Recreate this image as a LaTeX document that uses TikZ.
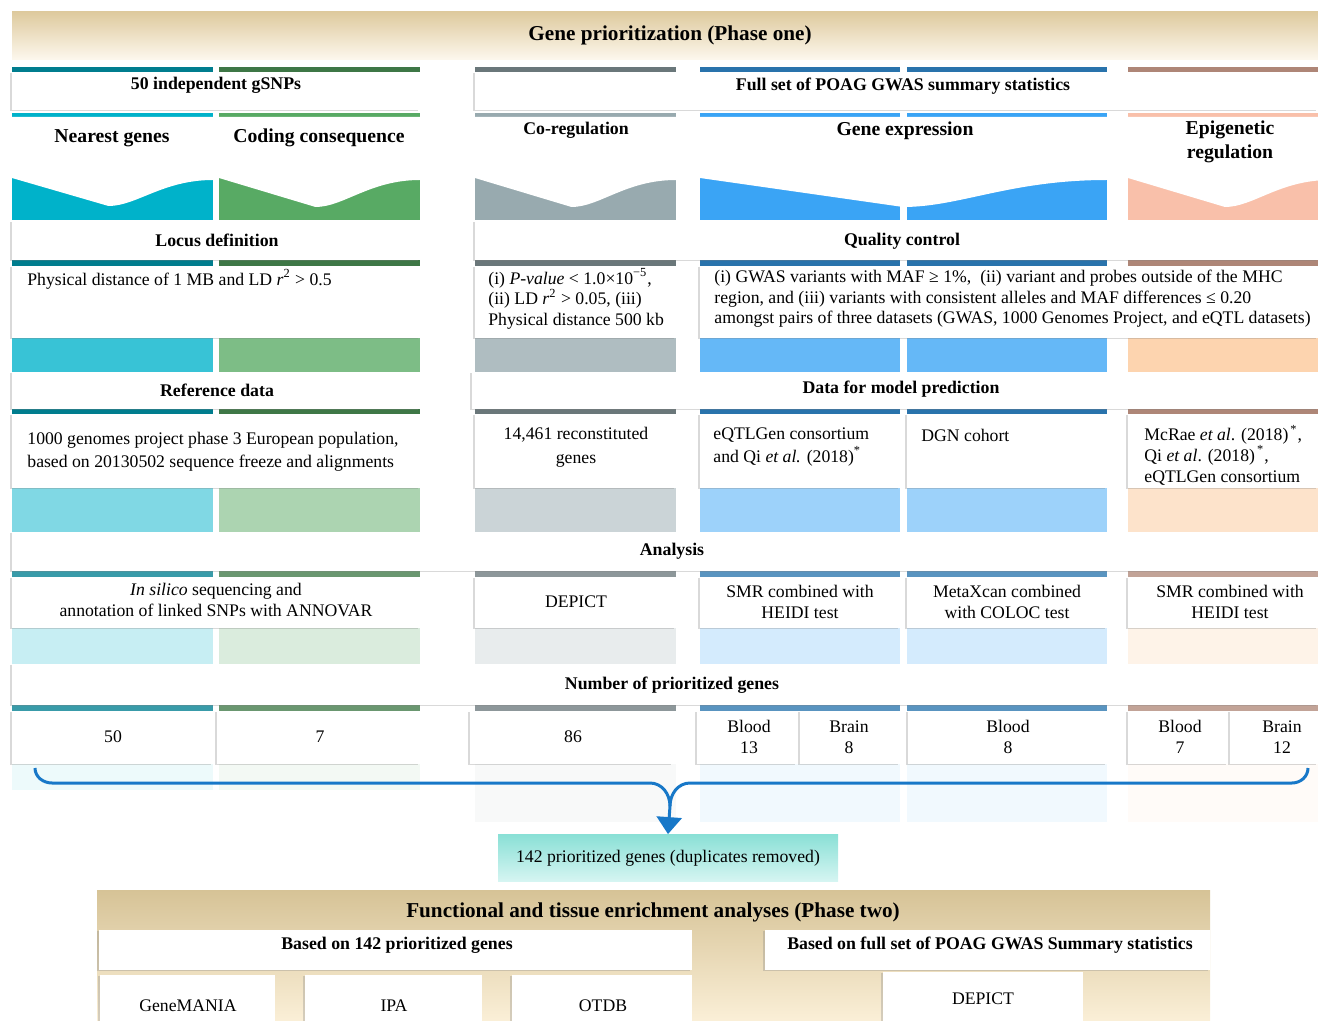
\documentclass[tikz,border=0pt]{standalone}
\usepackage{fontspec}
\setmainfont{Liberation Serif}
\usepackage{tikz}
\usetikzlibrary{arrows.meta,shadows,positioning}

\definecolor{colA}{RGB}{0,178,202}
\definecolor{colB}{RGB}{88,170,100}
\definecolor{colC}{RGB}{152,170,175}
\definecolor{colD}{RGB}{58,164,245}
\definecolor{colE}{RGB}{249,192,170}
\definecolor{colEb}{RGB}{252,200,152}
\definecolor{bracketblue}{RGB}{24,120,200}
\definecolor{tanTop}{RGB}{222,202,158}
\definecolor{tanBot}{RGB}{253,248,238}
\definecolor{tanTopB}{RGB}{214,195,150}
\definecolor{tanBotB}{RGB}{253,242,220}
\definecolor{tealTop}{RGB}{138,224,214}
\definecolor{tealBot}{RGB}{214,245,242}

\begin{document}
\begin{tikzpicture}[x=0.5pt,y=-0.5pt,
  panel/.style={fill=white,drop shadow={shadow xshift=-1.2pt,shadow yshift=-0.6pt,opacity=0.3}},
  ph/.style={font=\fontsize{10.6}{12.5}\selectfont\bfseries,inner sep=0pt},
  hdr/.style={font=\fontsize{8.9}{10.5}\selectfont\bfseries,inner sep=0pt},
  ttl/.style={font=\fontsize{9.85}{11.8}\selectfont\bfseries,align=center,inner sep=0pt},
  txt/.style={font=\fontsize{8.85}{10.3}\selectfont,align=left,inner sep=0pt},
  ctxt/.style={txt,align=center},
  bracket/.style={draw=bracketblue,line width=1.5pt}]
  \useasboundingbox (0,0) rectangle (1318,1021);
  \clip (0,0) rectangle (1318,1021);
  \shade[top color=tanTop,bottom color=tanBot] (12,12) rectangle (1318,60);
  \node[ph] (phase1) at (670,35) {Gene prioritization (Phase one)};
  % colour bands of the columns
  \foreach \xa/\xb/\c/\d/\e in {12/213/colA/colA/790,219/420/colB/colB/790,475/676/colC/colC/822,700/900/colD/colD/822,907/1107/colD/colD/822,1128/1318/colE/colEb/822}{
    \fill[\c] (\xa,113) rectangle (\xb,220);
    \fill[\d!78] (\xa,338) rectangle (\xb,372);
    \fill[\d!50] (\xa,488) rectangle (\xb,532);
    \fill[\d!22] (\xa,628) rectangle (\xb,664);
    \fill[\d!7] (\xa,764) rectangle (\xb,\e);
    \foreach \ya/\yb in {67/72,260/266,409/414} \fill[\c!70!black] (\xa,\ya) rectangle (\xb,\yb);
    \foreach \ya/\yb in {571/577,705/711} \fill[\c!55!gray] (\xa,\ya) rectangle (\xb,\yb);
  }
  % white panels
  \foreach \xa/\ya/\xb/\yb in {12/72/420/110,475/72/1318/110,12/221/420/260,475/221/1318/260,12/266/420/338,475/266/676/338,700/266/1318/338,12/372/420/409,472/372/1318/409,12/414/420/488,475/414/676/488,700/414/900/488,907/414/1107/488,1128/414/1318/488,12/532/1318/571,12/577/420/628,475/577/676/628,700/577/900/628,907/577/1107/628,1128/577/1318/628,12/664/1318/705,12/711/213/764,217/711/420/764,470/711/673/764,697/711/797/764,800/711/900/764,908/711/1107/764,1128/711/1228/764,1230/711/1318/764}
    \path[panel] (\xa,\ya) rectangle (\xb,\yb);
  \foreach \xa/\xb/\lo in {12/213/206,219/420/207,475/676/207,1128/1330/207}
    \fill[white] (\xa,117) -- (\xb,117) -- (\xb,180) .. controls ({\xb-0.25*(\xb-\xa)},180) and ({\xa+0.62*(\xb-\xa)},\lo) .. ({\xa+0.48*(\xb-\xa)},\lo) -- (\xa,178) -- cycle;
  \fill[white] (700,117) -- (1107,117) -- (1107,180) .. controls (1010,180) and (960,207) .. (903,207) -- (700,178) -- cycle;
  \node[hdr] (gsnps) at (216,85) {50 independent gSNPs};
  \node[hdr] (fullset) at (903,86) {Full set of POAG GWAS summary statistics};
  \node[ttl] (nearest) at (112,138) {Nearest genes};
  \node[ttl] (coding) at (319,138) {Coding consequence};
  \node[hdr] (coreg) at (576,130) {Co-regulation};
  \node[ttl] (geneexp) at (905,131) {Gene expression};
  \node[ttl] (epigen) at (1230,142) {Epigenetic\\regulation};
  \node[hdr] (locus) at (217,240) {Locus definition};
  \node[hdr] (qc) at (902,241) {Quality control};
  \node[txt,anchor=west] (locustxt) at (27,279) {Physical distance of 1 MB and LD \textit{r}\textsuperscript{2} > 0.5};
  \node[txt,anchor=west] (qcC) at (488,299) {(i) \textit{P-value} < 1.0×10\textsuperscript{−5},\\(ii) LD \textit{r}\textsuperscript{2} > 0.05, (iii)\\Physical distance 500 kb};
  \node[txt,anchor=west] (qcD) at (714,299) {(i) GWAS variants with MAF ≥ 1\%,\ \ (ii) variant and probes outside of the MHC\\region, and (iii) variants with consistent alleles and MAF differences ≤ 0.20\\amongst pairs of three datasets (GWAS, 1000 Genomes Project, and eQTL datasets)};
  \node[hdr] (refdata) at (217,390) {Reference data};
  \node[hdr] (modeldata) at (901,389) {Data for model prediction};
  \node[txt,anchor=west,font=\fontsize{8.85}{11.5}\selectfont] (reftxt) at (27,452) {1000 genomes project phase 3 European population,\\based on 20130502 sequence freeze and alignments};
  \node[ctxt,font=\fontsize{8.85}{11.8}\selectfont] (recon) at (576,447) {14,461 reconstituted\\genes};
  \node[txt,anchor=west,font=\fontsize{8.85}{11.5}\selectfont] (eqtlgen) at (713,447) {eQTLGen consortium\\and Qi \textit{et al.} (2018)\textsuperscript{*}};
  \node[txt,anchor=west] (dgn) at (921,435) {DGN cohort};
  \node[txt,anchor=west] (mcrae) at (1144,455) {McRae \textit{et al}. (2018)\textsuperscript{\,*},\\Qi \textit{et al}. (2018)\textsuperscript{\,*},\\eQTLGen consortium};
  \node[hdr] (analysis) at (672,551) {Analysis};
  \node[ctxt] (insilico) at (216,600) {\textit{In silico} sequencing and\\annotation of linked SNPs with ANNOVAR};
  \node[ctxt] (depict) at (576,602) {DEPICT};
  \node[ctxt] (smrD) at (800,602) {SMR combined with\\HEIDI test};
  \node[ctxt] (metaxcan) at (1007,602) {MetaXcan combined\\with COLOC test};
  \node[ctxt] (smrE) at (1230,602) {SMR combined with\\HEIDI test};
  \node[hdr] (nprior) at (672,685) {Number of prioritized genes};
  \foreach \n/\x/\t in {nA/113/{50},nB/320/{7},nC/573/{86},nDa/749/{Blood\\13},nDb/849/{Brain\\8},nDc/1008/{Blood\\8},nEa/1180/{Blood\\7},nEb/1282/{Brain\\12}}
    \node[ctxt] (\n) at (\x,737) {\t};
  % bracket and arrow
  \node[ctxt,minimum width=170pt,minimum height=23.5pt,top color=tealTop,bottom color=tealBot] (dedup) at (668,858) {142 prioritized genes (duplicates removed)};
  \coordinate (brL) at (35,768);
  \coordinate (brR) at (1308,768);
  \coordinate (brM) at (670,806);
  \draw[bracket] (brL) to[out=-90,in=180] (52,783) -- (650,783) to[out=0,in=90] (brM);
  \draw[bracket] (brR) to[out=-90,in=0] (1292,783) -- (690,783) to[out=180,in=90] (brM);
  \draw[bracket,-{Triangle[length=8.5pt,width=12.5pt]}] (brM) -- (dedup.north);
  % phase two
  \shade[top color=tanTopB,bottom color=tanBotB] (97,890) rectangle (1210,1030);
  \node[ph] (phase2) at (653,912) {Functional and tissue enrichment analyses (Phase two)};
  \foreach \xa/\ya/\xb/\yb in {99/930/692/970,765/930/1210/970,100/975/275/1030,305/975/482/1030,512/975/692/1030,883/972/1083/1030}
    \path[panel] (\xa,\ya) rectangle (\xb,\yb);
  \node[hdr] (based142) at (397,945) {Based on 142 prioritized genes};
  \node[hdr] (basedfull) at (990,945) {Based on full set of POAG GWAS Summary statistics};
  \node[ctxt] (genemania) at (188,1006) {GeneMANIA};
  \node[ctxt] (ipa) at (394,1006) {IPA};
  \node[ctxt] (otdb) at (603,1006) {OTDB};
  \node[ctxt] (depict2) at (983,999) {DEPICT};
\end{tikzpicture}
\end{document}
